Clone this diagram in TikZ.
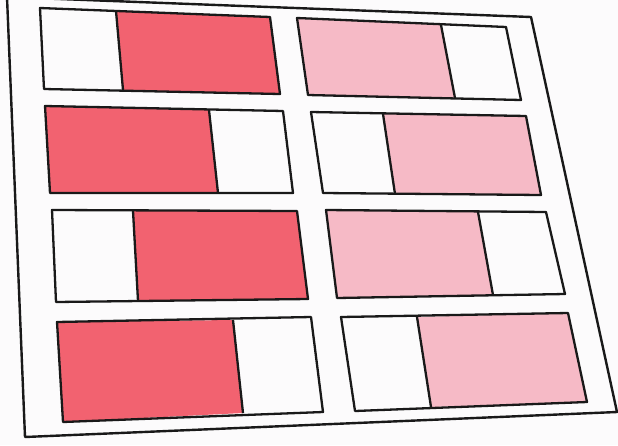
\documentclass[tikz,border=0pt]{standalone}
\definecolor{redfill}{RGB}{242,98,112}
\definecolor{pinkfill}{RGB}{246,186,198}
\definecolor{paper}{RGB}{252,251,252}
\tikzset{
  frameline/.style={draw=black!90, line width=2.4pt, line join=round},
  boxline/.style={draw=black!90, line width=2.3pt, line join=round},
  redpart/.style={fill=redfill},
  pinkpart/.style={fill=pinkfill}
}
\begin{document}
\begin{tikzpicture}[x=1pt,y=-1pt]
\useasboundingbox (0,0) rectangle (618,445);
\fill[paper] (0,0) rectangle (618,445);
% outer frame
\draw[frameline] (7,-3) -- (531,17) -- (617,412) -- (25,437) -- cycle;
% row 1 left: white | red
\fill[redpart] (116,11) -- (270,17) -- (280,94) -- (123,90) -- cycle;
\draw[boxline] (40,8) -- (270,17) -- (280,94) -- (44,89) -- cycle;
\draw[boxline] (116,11) -- (123,90);
% row 1 right: pink | white
\fill[pinkpart] (297,18) -- (441,25) -- (455,98) -- (308,95) -- cycle;
\draw[boxline] (297,18) -- (506,27) -- (521,100) -- (308,95) -- cycle;
\draw[boxline] (441,25) -- (455,98);
% row 2 left: red | white
\fill[redpart] (45,106) -- (209,110) -- (218,193) -- (50,193) -- cycle;
\draw[boxline] (45,106) -- (283,111) -- (293,193) -- (50,193) -- cycle;
\draw[boxline] (209,110) -- (218,193);
% row 2 right: white | pink
\fill[pinkpart] (383,114) -- (526,116) -- (541,195) -- (395,194) -- cycle;
\draw[boxline] (311,112) -- (526,116) -- (541,195) -- (323,193) -- cycle;
\draw[boxline] (383,114) -- (395,194);
% row 3 left: white | red
\fill[redpart] (133,211) -- (297,211) -- (308,299) -- (138,301) -- cycle;
\draw[boxline] (52,210) -- (297,211) -- (308,299) -- (56,302) -- cycle;
\draw[boxline] (133,211) -- (138,301);
% row 3 right: pink | white
\fill[pinkpart] (326,210) -- (478,212) -- (493,295) -- (337,298) -- cycle;
\draw[boxline] (326,210) -- (546,212) -- (565,294) -- (337,298) -- cycle;
\draw[boxline] (478,212) -- (493,295);
% row 4 left: red | white
\fill[redpart] (57,322) -- (233,320) -- (243,413) -- (63,422) -- cycle;
\draw[boxline] (57,322) -- (311,317) -- (323,412) -- (63,422) -- cycle;
\draw[boxline] (233,320) -- (243,413);
% row 4 right: white | pink
\fill[pinkpart] (417,317) -- (568,313) -- (587,402) -- (431,407) -- cycle;
\draw[boxline] (341,317) -- (568,313) -- (587,402) -- (355,411) -- cycle;
\draw[boxline] (417,317) -- (431,407);
\end{tikzpicture}
\end{document}
